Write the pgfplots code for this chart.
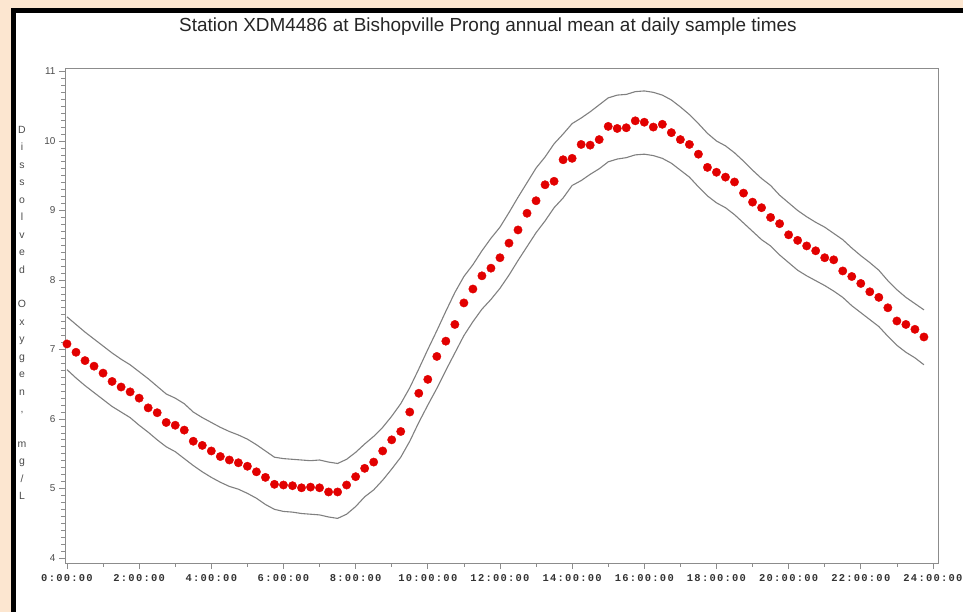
\documentclass[border=0pt]{standalone}
\usepackage{fontspec}
\setmainfont{Liberation Sans}
\newfontfamily\tickfont[LetterSpace=12]{Liberation Mono}
\usepackage{pgfplots}
\pgfplotsset{compat=1.18}
\usepackage{pgfplotstable}

\definecolor{peach}{HTML}{FCE6D0}
\definecolor{dotred}{HTML}{E20000}
\definecolor{bandgray}{HTML}{808080}
\definecolor{axgray}{HTML}{8C8C8C}

% hour of day, annual mean DO, upper and lower band
\pgfplotstableread{
t     mean  upper lower
0.00  7.08  7.47  6.71
0.25  6.96  7.36  6.59
0.50  6.84  7.25  6.48
0.75  6.76  7.15  6.38
1.00  6.66  7.05  6.28
1.25  6.54  6.95  6.18
1.50  6.46  6.86  6.10
1.75  6.39  6.78  6.02
2.00  6.30  6.68  5.91
2.25  6.16  6.58  5.81
2.50  6.09  6.47  5.70
2.75  5.95  6.36  5.60
3.00  5.91  6.30  5.53
3.25  5.84  6.22  5.43
3.50  5.68  6.10  5.33
3.75  5.62  6.02  5.24
4.00  5.54  5.95  5.16
4.25  5.46  5.88  5.09
4.50  5.41  5.82  5.03
4.75  5.37  5.77  4.99
5.00  5.32  5.71  4.93
5.25  5.24  5.63  4.86
5.50  5.16  5.54  4.77
5.75  5.06  5.45  4.70
6.00  5.05  5.43  4.67
6.25  5.04  5.42  4.66
6.50  5.01  5.41  4.64
6.75  5.02  5.40  4.63
7.00  5.01  5.41  4.62
7.25  4.95  5.38  4.59
7.50  4.95  5.36  4.57
7.75  5.05  5.42  4.63
8.00  5.17  5.52  4.74
8.25  5.29  5.64  4.88
8.50  5.38  5.75  4.98
8.75  5.54  5.88  5.12
9.00  5.70  6.04  5.28
9.25  5.82  6.22  5.45
9.50  6.10  6.45  5.68
9.75  6.37  6.72  5.95
10.00 6.57  7.00  6.20
10.25 6.90  7.27  6.44
10.50 7.12  7.55  6.70
10.75 7.36  7.82  6.95
11.00 7.67  8.05  7.20
11.25 7.87  8.22  7.40
11.50 8.06  8.42  7.58
11.75 8.17  8.60  7.72
12.00 8.32  8.76  7.88
12.25 8.53  8.97  8.07
12.50 8.72  9.19  8.28
12.75 8.96  9.40  8.48
13.00 9.14  9.61  8.68
13.25 9.37  9.77  8.85
13.50 9.42  9.96  9.04
13.75 9.73  10.10 9.18
14.00 9.75  10.25 9.36
14.25 9.95  10.33 9.43
14.50 9.94  10.42 9.52
14.75 10.02 10.52 9.60
15.00 10.21 10.62 9.70
15.25 10.18 10.66 9.74
15.50 10.19 10.67 9.76
15.75 10.29 10.71 9.80
16.00 10.27 10.72 9.81
16.25 10.20 10.70 9.79
16.50 10.24 10.66 9.75
16.75 10.12 10.59 9.68
17.00 10.02 10.49 9.58
17.25 9.95  10.38 9.48
17.50 9.81  10.25 9.34
17.75 9.62  10.11 9.21
18.00 9.55  10.00 9.11
18.25 9.48  9.93  9.04
18.50 9.41  9.83  8.94
18.75 9.25  9.71  8.82
19.00 9.12  9.58  8.70
19.25 9.04  9.46  8.58
19.50 8.90  9.36  8.49
19.75 8.81  9.22  8.36
20.00 8.65  9.11  8.25
20.25 8.57  9.00  8.14
20.50 8.49  8.91  8.06
20.75 8.42  8.83  7.99
21.00 8.32  8.76  7.92
21.25 8.29  8.67  7.84
21.50 8.13  8.58  7.75
21.75 8.05  8.46  7.63
22.00 7.95  8.35  7.53
22.25 7.83  8.25  7.43
22.50 7.75  8.14  7.33
22.75 7.60  7.99  7.19
23.00 7.41  7.86  7.06
23.25 7.36  7.75  6.96
23.50 7.29  7.66  6.88
23.75 7.18  7.57  6.78
}\dotable

\begin{document}
\begin{tikzpicture}
\useasboundingbox (0bp,0bp) rectangle (963bp,612bp);
\fill[white] (0bp,0bp) rectangle (963bp,612bp);
% frame of the page
\fill[peach] (0bp,0bp) rectangle (11bp,612bp);
\fill[peach] (0bp,604bp) rectangle (963bp,612bp);
\fill[black] (11bp,0bp) rectangle (16bp,604bp);
\fill[black] (11bp,599bp) rectangle (963bp,604bp);

\begin{axis}[
  at={(65bp,49bp)}, anchor=south west,
  scale only axis, width=873bp, height=495bp,
  xmin=-0.055, xmax=24.14, ymin=3.928, ymax=11.05,
  axis line style={draw=axgray, line width=0.9pt},
  every tick/.style={axgray, line width=0.7pt},
  tick align=outside,
  xtick pos=left, ytick pos=left,
  xtick={0,2,...,24}, minor xtick={1,3,...,23},
  xticklabels={0:00:00,2:00:00,4:00:00,6:00:00,8:00:00,10:00:00,12:00:00,
    14:00:00,16:00:00,18:00:00,20:00:00,22:00:00,24:00:00},
  ytick={4,5,...,11}, minor y tick num=9,
  major tick length=6bp,
  minor tick length=3.5bp,
  /pgf/number format/assume math mode=true,
  yticklabel style={font=\fontsize{10}{12}\selectfont, text=black!70},
  xticklabel style={font=\tickfont\bfseries\fontsize{10.5}{12}\selectfont,
    text=black!80, yshift=-2bp},
  clip=false,
]
\addplot[bandgray, line width=1.1pt] table[x=t, y=upper] {\dotable};
\addplot[bandgray, line width=1.1pt] table[x=t, y=lower] {\dotable};
\addplot[only marks, mark=*, mark size=4.2pt,
  mark options={draw=dotred, fill=dotred}] table[x=t, y=mean] {\dotable};
\end{axis}

\node[font=\fontsize{19}{22}\selectfont, text=black!85] at (488bp,585bp)
  {Station XDM4486 at Bishopville Prong annual mean at daily sample times};
\node[font=\fontsize{10.5}{17.5}\selectfont, align=center, text=black!70] at (22bp,299bp)
  {D\\i\\s\\s\\o\\l\\v\\e\\d\\~\\O\\x\\y\\g\\e\\n\\,\\~\\m\\g\\/\\L};
\end{tikzpicture}
\end{document}
